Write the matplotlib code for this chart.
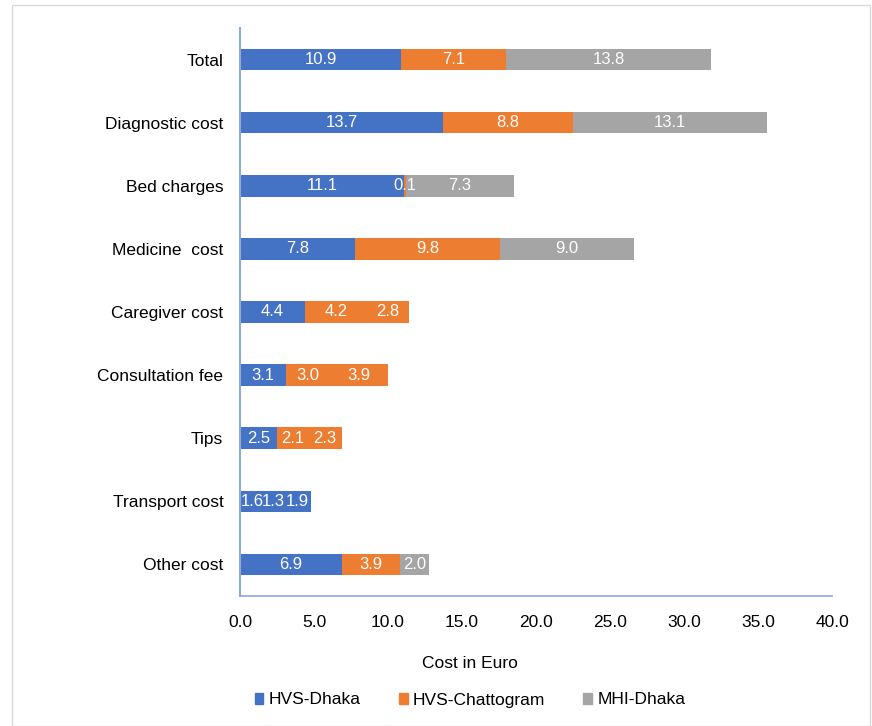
import matplotlib
matplotlib.use("Agg")
import matplotlib.pyplot as plt
from matplotlib.patches import Rectangle, Patch
import numpy as np

categories = ["Total", "Diagnostic cost", "Bed charges", "Medicine  cost", "Caregiver cost",
              "Consultation fee", "Tips", "Transport cost", "Other cost"]
hvs_dhaka = [10.9, 13.7, 11.1, 7.8, 4.4, 3.1, 2.5, 1.6, 6.9]
hvs_chattogram = [7.1, 8.8, 0.1, 9.8, 4.2, 3.0, 2.1, 1.3, 3.9]
mhi_dhaka = [13.8, 13.1, 7.3, 9.0, 2.8, 3.9, 2.3, 1.9, 2.0]
series_names = ["HVS-Dhaka", "HVS-Chattogram", "MHI-Dhaka"]

BLUE = "#4472c4"
ORANGE = "#ed7d31"
GRAY = "#a5a5a5"
# segment colours as they appear in the reference picture
dhaka_colors = [BLUE] * 9
chatt_colors = [ORANGE] * 7 + [BLUE] + [ORANGE]
mhi_colors = [GRAY, GRAY, GRAY, GRAY, ORANGE, ORANGE, ORANGE, BLUE, GRAY]

plt.rcParams["font.family"] = ["Liberation Sans", "DejaVu Sans"]

fig = plt.figure(figsize=(8.72, 7.26), dpi=100)
ax = fig.add_axes([240 / 872, 1 - 596 / 726, 592 / 872, 568 / 726])

y = np.arange(len(categories))
h = 0.34
d = np.array(hvs_dhaka)
c = np.array(hvs_chattogram)
m = np.array(mhi_dhaka)

ax.barh(y, d, height=h, color=dhaka_colors, label=series_names[0])
ax.barh(y, c, height=h, left=d, color=chatt_colors, label=series_names[1])
ax.barh(y, m, height=h, left=d + c, color=mhi_colors, label=series_names[2])

for vals, lefts in [(d, np.zeros_like(d)), (c, d), (m, d + c)]:
    for yi, v, l in zip(y, vals, lefts):
        ax.text(l + v / 2, yi, f"{v:.1f}", ha="center", va="center",
                color="white", fontsize=12)

ax.set_ylim(len(categories) - 0.5, -0.5)
ax.set_xlim(0, 40)
ax.set_yticks(y)
ax.set_yticklabels(categories, fontsize=12.5)
ax.set_xticks(np.arange(0, 41, 5))
ax.set_xticklabels([f"{v:.1f}" for v in np.arange(0, 41, 5)], fontsize=12.5)
ax.tick_params(axis="both", length=0)
ax.tick_params(axis="x", pad=14)
ax.tick_params(axis="y", pad=12)
for s in ["top", "right"]:
    ax.spines[s].set_visible(False)
ax.spines["left"].set_color("#8eaadb")
ax.spines["bottom"].set_color("#8eaadb")
ax.spines["left"].set_linewidth(1.5)
ax.spines["bottom"].set_linewidth(1.2)

fig.text(470 / 872, 1 - 663 / 726, "Cost in Euro", ha="center", va="center", fontsize=12.5)

handles = [Patch(color=BLUE), Patch(color=ORANGE), Patch(color=GRAY)]
fig.legend(handles, series_names, loc="center", bbox_to_anchor=(470 / 872, 1 - 700 / 726),
           ncol=3, frameon=False, fontsize=12.5, handlelength=0.5, handleheight=0.6,
           handletextpad=0.3, columnspacing=2.2)

fig.patches.append(Rectangle((12 / 872, 0), 858 / 872, 1 - 5 / 726, transform=fig.transFigure,
                             fill=False, edgecolor="#d9d9d9", linewidth=1))

fig.savefig("out.png", dpi=100)
